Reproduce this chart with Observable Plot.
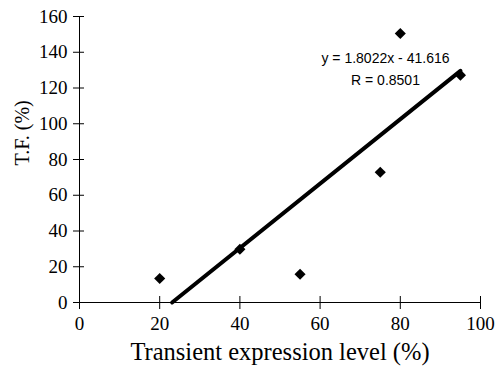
<!DOCTYPE html>
<html><head><meta charset="utf-8">
<script src="https://cdn.jsdelivr.net/npm/d3@7"></script>
<script src="https://cdn.jsdelivr.net/npm/@observablehq/plot@0.6"></script>
<style>body{margin:0;background:#fff}</style>
</head><body><div id="chart"></div>
<script>
const expression = [20, 40, 55, 75, 80, 95];
const tf = [13.4, 29.8, 15.8, 72.9, 150.5, 127.2];
const fitX = [23.1, 95];
const fitY = [0, 129.6];
const xTicks = [0, 20, 40, 60, 80, 100];
const yTicks = [0, 20, 40, 60, 80, 100, 120, 140, 160];
const annotText = ["y = 1.8022x - 41.616", "R = 0.8501"];
const annotX = [76.3, 76.3];
const annotY = [136.5, 124.3];
const xLabel = "Transient expression level (%)";
const yLabel = "T.F. (%)";

const points = expression.map((x, i) => ({x, y: tf[i]}));
const fit = fitX.map((x, i) => ({x, y: fitY[i]}));
const annot = annotText.map((t, i) => ({t, x: annotX[i], y: annotY[i]}));
const serif = "'Liberation Serif', 'Times New Roman', serif";

const chart = Plot.plot({
  width: 504, height: 378,
  marginLeft: 79, marginRight: 24, marginTop: 16, marginBottom: 76,
  style: {fontFamily: serif, fontSize: "19px", color: "#000", background: "#fff"},
  x: {domain: [0, 100], label: null},
  y: {domain: [0, 160], label: null},
  marks: [
    Plot.ruleY([0], {stroke: "#000", strokeWidth: 1}),
    Plot.ruleX([0], {stroke: "#000", strokeWidth: 1}),
    Plot.axisX(xTicks, {tickSize: 13, dy: -6, tickFormat: () => "", label: null, stroke: "#000", strokeWidth: 1}),
    Plot.axisY(yTicks, {tickSize: 11, dx: 5, tickFormat: () => "", label: null, stroke: "#000", strokeWidth: 1}),
    Plot.text(xTicks, {x: d => d, frameAnchor: "bottom", dy: 27, text: d => String(d), fontSize: 19, fontFamily: serif, fill: "#000"}),
    Plot.text(yTicks, {y: d => d, frameAnchor: "left", dx: -12, textAnchor: "end", text: d => String(d), fontSize: 19, fontFamily: serif, fill: "#000"}),
    Plot.line(fit, {x: "x", y: "y", stroke: "#000", strokeWidth: 4}),
    Plot.dot(points, {x: "x", y: "y", symbol: "diamond2", r: 5, fill: "#000", stroke: "none"}),
    Plot.text(annot, {x: "x", y: "y", text: "t", fontFamily: "'Liberation Sans', Arial, sans-serif", fontSize: 14, fill: "#000"}),
    Plot.text([xLabel], {frameAnchor: "bottom", dy: 57, fontSize: 24.5, fontFamily: serif, fill: "#000"}),
    Plot.text([yLabel], {frameAnchor: "left", dx: -57, dy: 6, rotate: -90, fontSize: 20, fontFamily: serif, fill: "#000"})
  ]
});
document.getElementById("chart").appendChild(chart);
</script>
</body></html>
